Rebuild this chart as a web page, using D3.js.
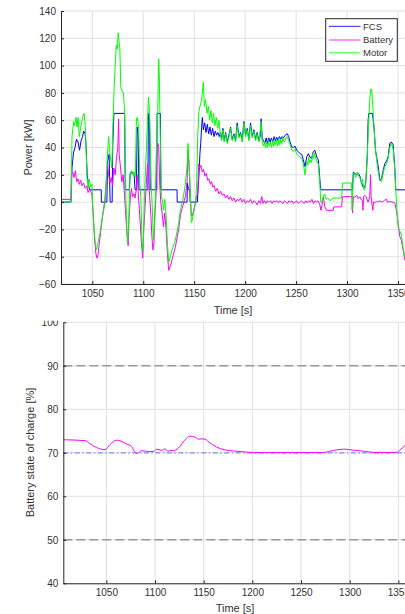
<!DOCTYPE html>
<html>
<head>
<meta charset="utf-8">
<title>FCS / Battery / Motor power and SOC</title>
<script src="https://d3js.org/d3.v7.min.js"></script>
<style>
body { margin: 0; background: #fff; }
svg text { font-family: "Liberation Sans", Arial, sans-serif; fill: #333; }
</style>
</head>
<body>
<svg id="chart" width="405" height="614"></svg>

<script>
// ---- data: [time s, value] ----
var timeTicks = [1050, 1100, 1150, 1200, 1250, 1300, 1350];
var powerTicks = [-60, -40, -20, 0, 20, 40, 60, 80, 100, 120, 140];
var socTicks = [40, 50, 60, 70, 80, 90, 100];
var seriesNames = ["FCS", "Battery", "Motor"];
var seriesColors = ["#0000ff", "#ff00ff", "#00ff00"];

var fcsData = [[1019.3,0],[1029.1,0],[1030.1,25],[1031.5,36],[1033,40],[1034.5,46],[1036,44],[1037.5,38],[1039,45],
  [1040.5,48],[1041.5,52],[1043,50],[1044,40],[1045,20],[1046.4,12],[1047.5,9],[1058.8,9],[1058.9,0],[1064.3,0],
  [1065,30],[1066.5,35],[1067.5,0],[1069.5,0],[1070,40],[1071.2,65],[1081.8,65],[1082.3,9],[1086.5,9],[1087,20],
  [1089,22],[1091,21],[1092,9],[1093.3,9],[1094,55],[1095,50],[1095.8,9],[1104.6,9],[1105,60],[1105.5,65],[1106.2,60],
  [1106.8,9],[1113.3,9],[1113.6,65],[1116.9,65],[1117.3,9],[1133.2,9],[1133.3,0],[1143,0],[1143.3,14],[1144.2,10],
  [1144.6,9],[1145.8,9],[1146,0],[1153.1,0],[1154.7,20],[1155.6,35],[1156.4,43],[1157.3,55],[1158,62],[1159,53],
  [1160.3,58],[1161.6,51],[1162.9,57],[1164.2,50],[1165.5,55],[1166.8,49],[1168.1,54],[1169.4,48],[1170.7,52],
  [1172,49],[1173.3,51],[1174.6,48],[1175.9,51],[1176.9,46],[1178.2,54],[1179.5,45],[1180.8,51],[1182.5,44],
  [1184.1,49],[1185.7,55],[1187.3,46],[1189,50],[1190.6,45],[1192.2,58],[1193.9,48],[1195.5,51],[1197.1,45],
  [1198.8,59],[1200.4,49],[1202,54],[1203.7,46],[1205.3,58],[1206.9,48],[1208.6,53],[1210.2,46],[1211.8,51],
  [1213.4,45],[1214.7,48],[1215.7,61],[1216.7,47],[1218,45],[1219.3,43],[1220.6,47],[1221.9,43],[1223.2,47],
  [1224.5,44],[1225.8,47],[1227.1,44],[1228.4,48],[1229.7,45],[1231,47.5],[1232.3,45],[1233.6,48],[1234.9,46],
  [1236.2,48],[1237.5,47],[1239.2,49],[1241.4,50],[1242.7,48],[1244.1,44],[1245.7,40.5],[1247.3,40],[1249,41],
  [1250.6,38],[1252.2,37],[1253.8,35.5],[1255.5,35],[1257.1,31],[1258.7,26],[1260.4,33],[1262,35.5],[1263.6,33],
  [1265.2,32],[1266.9,37],[1268.5,38],[1270.2,33],[1271.8,31],[1273.4,16],[1274.2,9],[1305.4,9],[1306.2,22],
  [1307.6,21],[1309.3,20],[1311,21],[1312.6,19],[1314.2,14],[1315.8,11],[1317.5,11],[1318.5,16],[1319.8,33],
  [1320.7,60],[1321.3,65],[1325,65],[1326.6,53],[1327.9,38],[1329.5,31],[1330.8,25],[1332.1,16],[1333.8,17],
  [1335.4,23],[1337,28],[1338.7,30],[1340.3,33],[1341.9,43],[1343.5,44],[1345.2,42],[1346.8,26],[1347.8,9],[1360,9]];

var batteryData = [[1019.3,2],[1029.1,2],[1029.5,21],[1030.8,22],[1032.1,18],[1033.4,23],[1034.7,15],[1036,17],
  [1037.3,13],[1038.6,16],[1039.9,12],[1041.5,14],[1043.2,10],[1044.8,12],[1045.8,7],[1047.1,9],[1048.4,8],[1049.7,5],
  [1051,-10],[1052.3,-28],[1053.6,-38],[1054.6,-41],[1055.5,-39],[1056.9,-30],[1058.8,-18],[1060.8,-6],[1062.1,0],
  [1063.7,15],[1065,28],[1066,20],[1067.3,14],[1068.6,18],[1069.9,12],[1071.2,25],[1072.5,20],[1073.8,33],[1075.1,40],
  [1075.8,61],[1076.4,35],[1077.7,25],[1079,15],[1080.3,20],[1081.6,5],[1082.9,-10],[1084.2,-25],[1085.2,-32],
  [1086,-12],[1087.5,5],[1088.5,10],[1089.5,4],[1090.8,6],[1092,3],[1093.3,10],[1094,20],[1095,8],[1096.6,-10],
  [1098.2,-30],[1099.5,-41],[1100.5,-20],[1101.8,-4],[1103,14],[1104.3,28],[1105.4,18],[1106.3,4],[1107.5,-10],
  [1108.5,-25],[1109.5,-35],[1110.5,-30],[1111.3,-10],[1112.5,4],[1113.6,40],[1114.5,43],[1115.2,40],[1116.2,13],
  [1117.2,0],[1118.5,-8],[1119.8,-18],[1121.1,-8],[1122.4,-20],[1123.7,-38],[1125,-50],[1126.6,-47],[1128.3,-42],
  [1131.5,-33],[1134.8,-20],[1136.4,-10],[1138.7,-3],[1141.3,4],[1143,15],[1143.9,38],[1144.9,26],[1145.9,9],
  [1147.2,-10],[1148.2,-10],[1149.8,-5],[1151.5,0],[1152.4,5],[1153.4,5],[1154.4,28],[1155.3,25],[1156.6,27],
  [1157.9,22],[1159.2,24],[1160.5,19],[1161.9,21],[1163.2,16],[1164.5,17],[1165.8,13],[1167.1,15],[1168.4,11],
  [1169.7,12],[1171,8],[1172.6,10],[1174.3,6],[1175.9,8],[1177.6,5],[1179.2,6],[1180.8,3],[1182.5,5],[1184.1,2],
  [1185.7,4],[1187.3,1],[1189,3],[1190.6,0],[1192.2,2],[1193.9,1],[1195.5,3],[1197.1,0],[1198.8,2],[1200.4,-1],
  [1202,1],[1203.7,0],[1205.3,2],[1206.9,-1],[1208.6,1],[1210.2,0],[1211.8,-2],[1213.4,1],[1215,-1],[1216.3,4],
  [1217.5,-1],[1219,1],[1220.5,-1],[1222,1],[1223.5,0],[1225,1],[1226.5,-1],[1228,1],[1229.5,0],[1231,1],
  [1232.5,-0.5],[1234,1],[1235.5,0],[1237,-1],[1238.5,1],[1240,0],[1241.5,-1],[1243,1],[1244.5,0],[1246,1],
  [1247.5,-1],[1249,0],[1250.5,1],[1252,-1],[1253.5,0],[1255,1],[1256.5,0],[1258,-1],[1259.5,1],[1261,-0.5],
  [1262.5,1],[1264,0],[1265.5,2],[1267,-1],[1268.5,1],[1270,0],[1271.5,1],[1273,-1],[1274.4,-6],[1275.4,-2],
  [1276.7,4],[1278,-3],[1279.9,-6],[1286.5,-6],[1287,-3.5],[1294.6,-3.5],[1295.6,4],[1305,4],[1305.4,-8],
  [1306.2,4],[1307.6,3.5],[1309.3,5],[1311,2.5],[1312.6,4],[1314.2,1.5],[1315.2,1],[1315.6,-6],[1316.2,4],
  [1317.5,5],[1318.5,4],[1320.7,0],[1322.3,4],[1323,20],[1323.6,4],[1324.5,-2],[1325.3,-6],[1325.9,0],[1327.2,-0.5],
  [1328.9,0.5],[1330.5,0],[1332.1,1],[1333.8,0],[1335.4,0.5],[1337,1.5],[1338.7,2],[1339.5,0],[1341.9,0.5],
  [1343.5,0],[1345.2,0],[1346.8,-0.5],[1348.4,-5.9],[1350.1,-15],[1351.7,-25],[1353.3,-28],[1355,-35],[1356.6,-42],
  [1360,-48]];

var motorData = [[1019.3,0],[1029.1,0],[1030.1,48],[1031.7,59],[1032.7,56],[1034,62],[1035,55],[1036,62],[1037.3,48],
  [1038.6,55],[1040.5,62],[1041.9,65],[1043.2,55],[1044.8,18],[1045.8,11],[1047.1,17],[1048.4,11],[1049.7,13],
  [1050.4,-2],[1051.3,-15],[1052.9,-30],[1054,-35],[1055.5,-30],[1057.5,-23],[1059.4,-13],[1061.1,-6],[1062.5,-1],
  [1063.5,12],[1064.5,30],[1066,48],[1066.8,40],[1067.7,33],[1069.2,25],[1070.2,55],[1071.5,85],[1072.5,100],
  [1073.5,115],[1074.5,112],[1075.4,124],[1076.2,118],[1077,113],[1078,84],[1079,82],[1080.5,80],[1081.5,70],
  [1082.3,38],[1083,0],[1083.9,-18],[1084.6,-30],[1085.6,-20],[1087,21],[1088.5,23],[1090,20],[1091.2,22],
  [1092.2,18],[1093.3,61],[1094.2,62],[1095.6,53],[1096.6,14],[1097.6,4],[1098.9,-30],[1099.9,-36],[1101.2,4],
  [1102.2,23],[1103.2,42],[1105.1,77],[1106.1,67],[1107.1,38],[1108,9],[1108.7,-1],[1110,-28],[1111.3,-12],
  [1112.9,38],[1114.2,67],[1115.2,105],[1115.8,92],[1116.9,38],[1117.9,4],[1119.2,0],[1119.8,-6],[1121.1,2],
  [1122.4,-10],[1123.7,-30],[1125,-44],[1126.6,-40],[1128.3,-35],[1131.5,-28],[1134.8,-15],[1136.4,-6],[1138.7,1],
  [1141.3,13],[1143,26],[1143.9,43],[1144.9,31],[1145.9,14],[1147.2,-15],[1148.2,-13],[1149.8,-6],[1151.5,0],
  [1152.4,14],[1153.4,48],[1154.7,67],[1156,71],[1157.3,75],[1159,88],[1160,70],[1161.2,75],[1162.6,65],
  [1163.9,70],[1165.2,60],[1166.5,67],[1167.8,58],[1169,65],[1170.3,56],[1171.7,62],[1173,54],[1174.3,60],
  [1175.6,50],[1176.9,45],[1178.2,53],[1179.5,44],[1180.8,50],[1182.5,43],[1184.1,48],[1185.7,54],[1187.3,45],
  [1189,49],[1190.6,44],[1192.2,56],[1193.9,47],[1195.5,50],[1197.1,44],[1198.8,58],[1200.4,48],[1202,53],
  [1203.7,45],[1205.3,56],[1206.9,47],[1208.6,52],[1210.2,45],[1211.8,50],[1213.4,44],[1214.2,47],[1215.7,59],
  [1216.7,44],[1218,41],[1219,44],[1220,40],[1221,44],[1222,40],[1223,45],[1224,41],[1225,44],[1226,40],[1227,45],
  [1228,41],[1229,45],[1230,42],[1231,46],[1232,41],[1233,46],[1234,42],[1235,46],[1236,43],[1237,47],[1238.5,44],
  [1240,47],[1241.4,48],[1242.7,45],[1244.1,42],[1245.7,38],[1247.3,37],[1249,39],[1250.6,35],[1252.2,34],
  [1253.8,33],[1255.5,32],[1257.1,28],[1258.7,20],[1259.5,25],[1260.4,30],[1261.5,27],[1262.4,33],[1263.3,29],
  [1264.3,31],[1265.2,29],[1266.2,35],[1267,32],[1268,36],[1269,33],[1270.2,30],[1271.8,28],[1273.4,12],
  [1274.2,0],[1275.5,0],[1276.7,4],[1278,6],[1279.5,2],[1281,3],[1283.2,1],[1286.5,3],[1294.6,3],[1295.6,14],
  [1304.4,14],[1305,-6],[1306,21],[1307.6,20],[1308.6,18],[1309.9,22],[1311.2,19],[1312.6,18],[1314.2,14],
  [1315.2,17],[1316.5,9],[1317.5,9],[1318.5,15],[1319.8,33],[1321,55],[1322.3,75],[1323.3,83],[1324.3,81],
  [1325.3,70],[1326.6,53],[1327.9,38],[1329.5,28],[1330.8,21],[1332.1,16],[1333.8,15],[1335.4,21],[1337,26],
  [1338.7,28],[1340.3,32],[1341.9,40],[1343.5,43],[1345.2,39],[1346.8,24],[1347.8,9],[1349.1,-8],[1350.4,-20],
  [1351.7,-21],[1353.3,-24],[1355,-33],[1356.6,-40],[1360,-46]];

var socData = [[1005.8,73.0],[1028.1,72.8],[1033.2,72.1],[1040.1,71.2],[1048.6,70.7],[1053.8,71.9],[1060.6,72.9],
  [1064.1,72.76],[1070.9,72.0],[1076,71.5],[1079.5,70.08],[1081.9,69.92],[1086.3,70.5],[1093.2,70.3],[1098.3,70.3],
  [1101.7,70.84],[1106.9,70.55],[1110.3,70.9],[1113.7,70.3],[1115.4,70.55],[1118.9,70.5],[1124,71.1],[1130.8,73.0],
  [1136,73.83],[1141.1,73.6],[1144.5,73.14],[1148,73.2],[1151.4,73.14],[1156.5,72.26],[1163.4,71.3],[1173.7,70.6],
  [1187.4,70.3],[1201.1,70.08],[1242.2,70.08],[1273,70.08],[1283.3,70.55],[1295.2,70.84],[1303.8,70.6],
  [1317.5,70.3],[1324.4,70.08],[1348.3,70.08],[1351.8,70.7],[1356.9,71.7],[1360,72.4]];

var socLimits = [90, 50];   // dashed grey
var socTarget = 70;         // dash-dot blue

// ---- layout ----
var svg = d3.select("#chart");
var axisColor = "#262626";
var gridColor = "#e0e0e0";

var xTop = d3.scaleLinear().domain([1019.3, 1360]).range([61, 408.2]);
var yTop = d3.scaleLinear().domain([-60, 140]).range([284, 11]);
var xBot = d3.scaleLinear().domain([1005.8, 1360]).range([63.3, 408.1]);
var yBot = d3.scaleLinear().domain([40, 100]).range([583.3, 322.3]);

function grid(x, y, xt, yt) {
  var g = svg.append("g").attr("stroke", gridColor).attr("stroke-width", 1);
  g.selectAll(".v").data(xt).enter().append("line")
    .attr("x1", function(d) { return x(d); }).attr("x2", function(d) { return x(d); })
    .attr("y1", y.range()[0]).attr("y2", y.range()[1]);
  g.selectAll(".h").data(yt).enter().append("line")
    .attr("x1", x.range()[0]).attr("x2", x.range()[1])
    .attr("y1", function(d) { return y(d); }).attr("y2", function(d) { return y(d); });
}

function axes(x, y, xt, yt) {
  var gx = svg.append("g")
    .attr("transform", "translate(0," + y.range()[0] + ")")
    .call(d3.axisBottom(x).tickValues(xt).tickSize(-3).tickSizeOuter(0).tickPadding(6).tickFormat(d3.format("d")));
  var gy = svg.append("g")
    .attr("transform", "translate(" + x.range()[0] + ",0)")
    .call(d3.axisLeft(y).tickValues(yt).tickSize(-3).tickSizeOuter(0).tickPadding(5).tickFormat(d3.format("d")));
  [gx, gy].forEach(function(g) {
    g.attr("color", axisColor).attr("font-size", 10).attr("font-family", null);
    g.select(".domain").attr("stroke-width", 1);
  });
}

function label(txt, x, y, rot) {
  svg.append("text")
    .attr("transform", "translate(" + x + "," + y + ")" + (rot ? " rotate(-90)" : ""))
    .attr("text-anchor", "middle")
    .attr("font-size", 11)
    .text(txt);
}

// ---- top: power ----
grid(xTop, yTop, timeTicks, powerTicks);

svg.append("clipPath").attr("id", "clipTop").append("rect")
  .attr("x", 61).attr("y", 0).attr("width", 348).attr("height", 290);

var lineTop = d3.line()
  .x(function(d) { return xTop(d[0]); })
  .y(function(d) { return yTop(d[1]); });

var plotTop = svg.append("g").attr("clip-path", "url(#clipTop)");
[fcsData, batteryData, motorData].forEach(function(s, i) {
  plotTop.append("path")
    .datum(s)
    .attr("d", lineTop)
    .attr("fill", "none")
    .attr("stroke", seriesColors[i])
    .attr("stroke-width", 1)
    .attr("stroke-linejoin", "round");
});

axes(xTop, yTop, timeTicks, powerTicks);
label("Time [s]", 233, 314, false);
label("Power [kW]", 31.5, 147.5, true);

// legend
var leg = svg.append("g");
leg.append("rect")
  .attr("x", 325.7).attr("y", 18.7).attr("width", 71.6).attr("height", 42.6)
  .attr("fill", "#fff").attr("stroke", axisColor).attr("stroke-width", 1);
var legY = [26.4, 40, 52.8];
seriesNames.forEach(function(n, i) {
  leg.append("line")
    .attr("x1", 329).attr("x2", 360.5)
    .attr("y1", legY[i]).attr("y2", legY[i])
    .attr("stroke", seriesColors[i]).attr("stroke-width", 1.2).attr("stroke-opacity", 0.7);
  leg.append("text")
    .attr("x", 363).attr("y", legY[i] + 3.4)
    .attr("font-size", 9.5)
    .text(n);
});

// ---- bottom: SOC ----
grid(xBot, yBot, timeTicks, socTicks);

var refs = svg.append("g");
refs.selectAll("line.lim").data(socLimits).enter().append("line")
  .attr("x1", xBot.range()[0]).attr("x2", xBot.range()[1])
  .attr("y1", function(d) { return yBot(d); }).attr("y2", function(d) { return yBot(d); })
  .attr("stroke", "#999").attr("stroke-width", 1.5).attr("stroke-dasharray", "9,4");
refs.append("line")
  .attr("x1", xBot.range()[0]).attr("x2", xBot.range()[1])
  .attr("y1", yBot(socTarget)).attr("y2", yBot(socTarget))
  .attr("stroke", "#8a8af5").attr("stroke-width", 1.2).attr("stroke-dasharray", "5,2.5,1.5,2.5");

svg.append("path")
  .datum(socData)
  .attr("d", d3.line()
    .x(function(d) { return xBot(d[0]); })
    .y(function(d) { return yBot(d[1]); })
    .curve(d3.curveMonotoneX))
  .attr("fill", "none")
  .attr("stroke", "#ff00ff")
  .attr("stroke-width", 1);

axes(xBot, yBot, timeTicks, socTicks);
label("Time [s]", 235, 612, false);
label("Battery state of charge [%]", 33.5, 452.5, true);

// the top axes cover the upper half of the "100" label
svg.append("rect").attr("x", 30).attr("y", 316).attr("width", 31).attr("height", 4.7).attr("fill", "#fff");
</script>
</body>
</html>
